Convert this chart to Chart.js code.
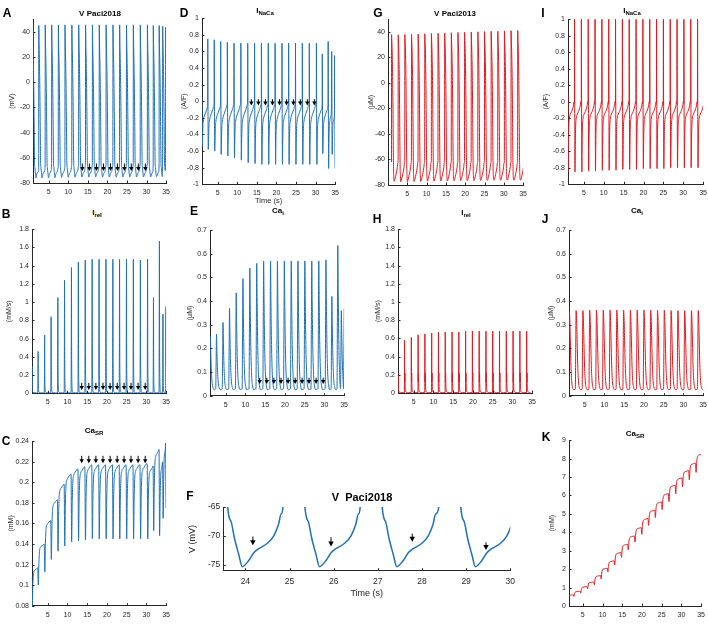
<!DOCTYPE html>
<html>
<head>
<meta charset="utf-8">
<script src="https://cdn.jsdelivr.net/npm/chart.js@4.4.1/dist/chart.umd.min.js"></script>
<style>
body{margin:0;width:708px;height:631px;background:#fff;position:relative;overflow:hidden;font-family:"Liberation Sans",Arial,sans-serif;}
canvas{position:absolute;}
.ltr{position:absolute;font-weight:bold;font-size:12px;color:#000;transform:translate(-50%,-50%);}
.ttl{position:absolute;font-weight:bold;font-size:8px;color:#000;white-space:nowrap;transform:translate(-50%,-50%);}
.ttl sub{font-size:6px;vertical-align:-2px;}
</style>
</head>
<body>
<script>
// ---------- Paci2018 (blue), upstroke times in s ----------
const beats18 = [0.9, 2.45, 4.1, 5.75, 7.45, 9.15, 10.9, 12.65, 14.4, 16.15, 17.9, 19.65, 21.4, 23.1, 24.85, 26.6, 28.38, 30.2, 31.7, 33.2, 34.1, 34.85];
const vPeak18 = [45, 45, 45.5, 45.5, 45.5, 45.5, 45.5, 45.5, 45.5, 45.5, 45.5, 45.5, 45.5, 45.5, 45.5, 45.5, 45.5, 45.5, 45, 45, 44.5, 43.5];
const vTrough18 = [-76, -76, -76, -75.8, -75.6, -75.5, -75.4, -75.3, -75.3, -75.3, -75.3, -75.3, -75.3, -75.3, -75.3, -75.3, -75.3, -75.2, -75, -75, -74.5, -74.5];
const relPeak18 = [0.3, 0.46, 0.64, 0.84, 1.05, 1.24, 1.38, 1.44, 1.46, 1.47, 1.47, 1.47, 1.47, 1.47, 1.47, 1.47, 1.46, 1.47, 1.05, 1.67, 0.87, 0.95];
const nacaPeak18 = [0.75, 0.75, 0.74, 0.72, 0.71, 0.7, 0.7, 0.7, 0.7, 0.7, 0.7, 0.7, 0.7, 0.7, 0.7, 0.7, 0.7, 0.7, 0.57, 0.72, 0.6, 0.55];
const nacaTrough18 = [-0.55, -0.58, -0.6, -0.64, -0.66, -0.68, -0.71, -0.74, -0.75, -0.76, -0.76, -0.76, -0.76, -0.76, -0.76, -0.76, -0.76, -0.76, -0.63, -0.81, -0.64, -0.81];
const caiPeak18 = [0.25, 0.26, 0.31, 0.37, 0.435, 0.495, 0.54, 0.56, 0.57, 0.57, 0.57, 0.57, 0.57, 0.57, 0.57, 0.57, 0.57, 0.575, 0.42, 0.635, 0.36, 0.37];
const caSRTop18 = [0.09, 0.117, 0.14, 0.163, 0.183, 0.198, 0.208, 0.213, 0.215, 0.217, 0.217, 0.217, 0.217, 0.217, 0.217, 0.217, 0.217, 0.218, 0.216, 0.232, 0.22, 0.238];
const caSRMin18 = [0.078, 0.1, 0.113, 0.125, 0.133, 0.138, 0.142, 0.143, 0.144, 0.145, 0.145, 0.145, 0.145, 0.145, 0.145, 0.145, 0.145, 0.145, 0.153, 0.148, 0.165, 0.175];
const arrowTimes18 = [13.6, 15.4, 17.2, 19.0, 20.8, 22.6, 24.35, 26.1, 27.9, 29.7];
const arrowTimesF = [24.17, 25.94, 27.78, 29.45];
const arrowFromF = [-70.1, -70.2, -69.6, -71.1];
const arrowToF = [-71.6, -71.8, -71.0, -72.4];

// ---------- Paci2013 (red) ----------
const beats13 = [0.9, 2.62, 4.34, 6.06, 7.78, 9.5, 11.22, 12.94, 14.66, 16.38, 18.1, 19.82, 21.54, 23.26, 24.98, 26.7, 28.42, 30.14, 31.86, 33.58];
const vPeak13 = [38, 37.8, 38, 38.2, 38.4, 38.6, 38.8, 39, 39.2, 39.4, 39.6, 39.8, 40, 40.1, 40.3, 40.5, 40.6, 40.8, 41, 41.1];
const vTrough13 = [-77, -77.5, -77.5, -77.3, -77.2, -77, -77, -76.8, -76.8, -76.6, -76.6, -76.5, -76.5, -76.4, -76.3, -76.2, -76.2, -76.1, -76, -76];
const relPeak13 = [0.54, 0.58, 0.61, 0.64, 0.65, 0.66, 0.67, 0.67, 0.67, 0.67, 0.68, 0.68, 0.68, 0.68, 0.68, 0.68, 0.68, 0.68, 0.68, 0.68];
const nacaPeak13 = [1.1, 1.1, 1.1, 1.1, 1.1, 1.1, 1.1, 1.1, 1.1, 1.1, 1.1, 1.1, 1.1, 1.1, 1.1, 1.1, 1.1, 1.1, 1.1, 1.1];
const nacaTrough13 = [-0.85, -0.85, -0.85, -0.84, -0.84, -0.83, -0.83, -0.83, -0.82, -0.82, -0.82, -0.81, -0.81, -0.81, -0.81, -0.8, -0.8, -0.8, -0.8, -0.8];
const caiPeak13 = [0.355, 0.36, 0.36, 0.362, 0.362, 0.362, 0.362, 0.362, 0.362, 0.362, 0.362, 0.362, 0.362, 0.362, 0.362, 0.36, 0.36, 0.36, 0.36, 0.36];
const caSRTop13 = [0.45, 0.6, 0.8, 1.05, 1.3, 1.65, 2.05, 2.45, 2.9, 3.35, 3.8, 4.25, 4.75, 5.2, 5.65, 6.1, 6.55, 6.95, 7.35, 7.75, 8.25];
const caSRMin13 = [0.4, 0.52, 0.7, 0.93, 1.15, 1.47, 1.85, 2.22, 2.64, 3.05, 3.47, 3.89, 4.37, 4.8, 5.23, 5.66, 6.09, 6.47, 6.85, 7.25];

// ---------- tick labels ----------
const timeTicks = [5, 10, 15, 20, 25, 30, 35];
const timeTicksF = [24, 25, 26, 27, 28, 29, 30];
const vTicks = [-80, -60, -40, -20, 0, 20, 40];
const vTicksF = [-75, -70, -65];
const nacaTicks = [-1, -0.8, -0.6, -0.4, -0.2, 0, 0.2, 0.4, 0.6, 0.8, 1];
const relTicks = [0, 0.2, 0.4, 0.6, 0.8, 1, 1.2, 1.4, 1.6, 1.8];
const caiTicks = [0, 0.1, 0.2, 0.3, 0.4, 0.5, 0.6, 0.7];
const caSRTicks18 = [0.08, 0.1, 0.12, 0.14, 0.16, 0.18, 0.2, 0.22, 0.24];
const caSRTicks13 = [0, 1, 2, 3, 4, 5, 6, 7, 8, 9];

// beat shapes: [s after upstroke, value | per-beat key | [keyA, keyB, fraction]]
const shapeV18 = [[0, -65], [0.025, 'peak'], [0.1, 30], [0.2, 15], [0.3, -5], [0.4, -35], [0.46, -55], [0.5, -65], [0.58, -67.6], [0.65, -70.3], [0.75, -73.2], [0.83, 'trough'], [0.98, -74.2], [1.09, -72.9], [1.2, -72.2], [1.39, -71.3], [1.54, -70], [1.65, -68], [1.71, -66.2]];
const shapeNaca18 = [[0, -0.03], [0.025, 'peak'], [0.07, 0.05], [0.15, 'trough'], [0.22, -0.5], [0.3, -0.33], [0.45, -0.24], [0.7, -0.18], [1.0, -0.14], [1.3, -0.1], [1.5, -0.07], [1.65, -0.04]];
const shapeRel18 = [[0, 0.004], [0.05, ['base', 'peak', 0.3]], [0.1, 'peak'], [0.15, ['base', 'peak', 0.3]], [0.22, ['base', 'peak', 0.08]], [0.35, 0.012], [0.7, 0.006], [1.2, 0.004]];
const shapeCai18 = [[0, 0.03], [0.1, ['base', 'peak', 0.5]], [0.2, 'peak'], [0.3, ['base', 'peak', 0.7]], [0.45, ['base', 'peak', 0.35]], [0.65, ['base', 'peak', 0.12]], [0.9, ['base', 'peak', 0.03]], [1.2, 'base'], [1.6, 0.028]];
const shapeSR = [[0, 'top'], [0.15, 'min'], [0.3, ['min', 'next', 0.55]], [0.45, ['min', 'next', 0.82]], [0.7, ['min', 'next', 0.92]], [1.0, ['min', 'next', 0.95]], [1.2, ['min', 'next', 0.97]], [1.45, ['min', 'next', 0.985]], [1.62, 'next']];
const shapeV13 = [[0, -62], [0.025, 'peak'], [0.1, 32], [0.2, 22], [0.3, 5], [0.4, -25], [0.47, -52], [0.53, -67], [0.6, -73.5], [0.7, 'trough'], [0.85, -76], [1.05, -73.5], [1.3, -70], [1.5, -66.5], [1.65, -62.5]];
const shapeRel13 = [[0, 0.003], [0.04, 'peak'], [0.08, 0.12], [0.13, 0.22], [0.18, 0.1], [0.26, 0.03], [0.5, 0.008], [1.0, 0.004]];
const shapeNaca13 = [[0, -0.02], [0.025, 'peak'], [0.07, 0.1], [0.14, 'trough'], [0.22, -0.5], [0.3, -0.3], [0.45, -0.2], [0.7, -0.15], [1.0, -0.12], [1.3, -0.08], [1.5, -0.04], [1.62, 0.0]];
const shapeCai13 = [[0, 0.028], [0.08, ['base', 'peak', 0.5]], [0.18, 'peak'], [0.3, ['base', 'peak', 0.9]], [0.45, ['base', 'peak', 0.6]], [0.6, ['base', 'peak', 0.3]], [0.8, ['base', 'peak', 0.1]], [1.0, ['base', 'peak', 0.03]], [1.3, 'base'], [1.65, 0.027]];

function pick(params, key, k) {
    const v = params[key];
    return typeof v === 'number' ? v : v[k];
}

function resolve(spec, k, params) {
    if (typeof spec === 'number') return spec;
    if (typeof spec === 'string') return pick(params, spec, k);
    const a = pick(params, spec[0], k), b = pick(params, spec[1], k);
    return a + spec[2] * (b - a);
}

function buildTrace(times, shape, params) {
    const pts = [];
    times.forEach((t0, k) => {
        const tNext = k + 1 < times.length ? times[k + 1] : Infinity;
        for (const [dt, spec] of shape) {
            if (t0 + dt >= tNext - 1e-6) break;
            pts.push({ x: +(t0 + dt).toFixed(3), y: resolve(spec, k, params) });
        }
    });
    return pts;
}

const nextOf = arr => arr.slice(1).concat([arr[arr.length - 1]]);

const traceV18 = buildTrace(beats18, shapeV18, { peak: vPeak18, trough: vTrough18 });
const traceNaca18 = buildTrace(beats18, shapeNaca18, { peak: nacaPeak18, trough: nacaTrough18 });
const traceRel18 = buildTrace(beats18, shapeRel18, { peak: relPeak18, base: 0 });
const traceCai18 = buildTrace(beats18, shapeCai18, { peak: caiPeak18, base: 0.025 });
const traceSR18 = buildTrace(beats18, shapeSR, { top: caSRTop18, min: caSRMin18, next: nextOf(caSRTop18) });
const traceV13 = buildTrace(beats13, shapeV13, { peak: vPeak13, trough: vTrough13 });
const traceRel13 = buildTrace(beats13, shapeRel13, { peak: relPeak13 });
const traceNaca13 = buildTrace(beats13, shapeNaca13, { peak: nacaPeak13, trough: nacaTrough13 });
const traceCai13 = buildTrace(beats13, shapeCai13, { peak: caiPeak13, base: 0.025 });
const traceSR13 = buildTrace(beats13, shapeSR, { top: caSRTop13, min: caSRMin13, next: caSRTop13.slice(1) });

const AX = '#262626';
const FONT = '"Liberation Sans", Arial, sans-serif';
const BLUE = '#1f70b8';
const RED = '#e3171d';

// panel layout: plot area edges in page pixels
const panels = [
    { L: 33, T: 18, R: 167, B: 183, xr: [1, 35], yr: [-80, 50], xt: timeTicks, yt: vTicks, data: traceV18, col: BLUE, yTitle: '(mV)', yTitleX: 13,
      arrows: { at: arrowTimes18, from: -64.5, to: -70.5, head: 4 } },
    { L: 202, T: 17.3, R: 336, B: 184.3, xr: [1, 35], yr: [-1, 1], xt: timeTicks, yt: nacaTicks, data: traceNaca18, col: BLUE, yTitle: '(A/F)', yTitleX: 185,
      xTitle: 'Time (s)', hx: 21.5, arrows: { at: arrowTimes18, from: 0.025, to: -0.05, head: 4 } },
    { L: 388, T: 18, R: 524, B: 185, xr: [0, 35], yr: [-80, 50], xt: timeTicks, yt: vTicks, data: traceV13, col: RED, yTitle: '(\u03bcM)', yTitleX: 372 },
    { L: 568, T: 18.3, R: 704, B: 184.3, xr: [1, 35], yr: [-1, 1], xt: timeTicks, yt: nacaTicks, data: traceNaca13, col: RED, yTitle: '(A/F)', yTitleX: 547 },
    { L: 32, T: 228, R: 167, B: 393.3, xr: [1, 35], yr: [0, 1.8], xt: timeTicks, yt: relTicks, data: traceRel18, col: BLUE, yTitle: '(mM/s)', yTitleX: 10,
      arrows: { at: arrowTimes18, from: 0.115, to: 0.036, head: 4 } },
    { L: 210, T: 229.3, R: 345, B: 395.7, xr: [1, 35], yr: [0, 0.7], xt: timeTicks, yt: caiTicks, data: traceCai18, col: BLUE, yTitle: '(\u03bcM)', yTitleX: 191,
      arrows: { at: arrowTimes18, from: 0.076, to: 0.049, head: 4 } },
    { L: 398, T: 228, R: 533, B: 393, xr: [1, 35], yr: [0, 1.8], xt: timeTicks, yt: relTicks, data: traceRel13, col: RED, yTitle: '(mM/s)', yTitleX: 379 },
    { L: 569, T: 229.3, R: 704, B: 395.7, xr: [1, 35], yr: [0, 0.7], xt: timeTicks, yt: caiTicks, data: traceCai13, col: RED, yTitle: '(\u03bcM)', yTitleX: 552 },
    { L: 32, T: 440, R: 166.7, B: 605.7, xr: [1, 35], yr: [0.08, 0.24], xt: timeTicks, yt: caSRTicks18, data: traceSR18, col: BLUE, yTitle: '(mM)', yTitleX: 12,
      arrows: { at: arrowTimes18, from: 0.2258, to: 0.2185, head: 4 } },
    { L: 223.3, T: 505.7, R: 512.7, B: 570.7, xr: [23.5, 30], yr: [-76, -65], xt: timeTicksF, yt: vTicksF, data: traceV18, col: BLUE, yTitle: 'V (mV)', yTitleX: 193,
      xTitle: 'Time (s)', hx: 28.5, big: true, lw: 1.5, arrows: { at: arrowTimesF, from: arrowFromF, to: arrowToF, head: 5 } },
    { L: 569, T: 439.3, R: 701.7, B: 606, xr: [1.5, 35], yr: [0, 9], xt: timeTicks, yt: caSRTicks13, data: traceSR13, col: RED, yTitle: '(mM)', yTitleX: 553 }
];

const inwardTicks = {
    id: 'inwardTicks',
    afterDraw(chart) {
        const { ctx, chartArea: ca, scales: { x, y } } = chart;
        ctx.save();
        ctx.strokeStyle = AX;
        ctx.lineWidth = 1;
        ctx.beginPath();
        x.ticks.forEach(t => {
            const px = Math.round(x.getPixelForValue(t.value)) + 0.5;
            ctx.moveTo(px, ca.bottom);
            ctx.lineTo(px, ca.bottom - 2.5);
        });
        y.ticks.forEach(t => {
            const py = Math.round(y.getPixelForValue(t.value)) + 0.5;
            ctx.moveTo(ca.left, py);
            ctx.lineTo(ca.left + 2.5, py);
        });
        ctx.stroke();
        ctx.restore();
    }
};

const arrowMarks = {
    id: 'arrowMarks',
    afterDatasetsDraw(chart, args, opts) {
        if (!opts || !opts.at) return;
        const { ctx, scales: { x, y } } = chart;
        const val = (v, i) => Array.isArray(v) ? v[i] : v;
        ctx.save();
        ctx.fillStyle = '#000';
        ctx.strokeStyle = '#000';
        ctx.lineWidth = 1;
        opts.at.forEach((t, i) => {
            const px = x.getPixelForValue(t);
            const y0 = y.getPixelForValue(val(opts.from, i));
            const y1 = y.getPixelForValue(val(opts.to, i));
            const h = opts.head;
            ctx.beginPath();
            ctx.moveTo(px, y0);
            ctx.lineTo(px, y1 - h + 1);
            ctx.stroke();
            ctx.beginPath();
            ctx.moveTo(px - h * 0.55, y1 - h);
            ctx.lineTo(px + h * 0.55, y1 - h);
            ctx.lineTo(px, y1);
            ctx.closePath();
            ctx.fill();
        });
        ctx.restore();
    }
};

panels.forEach(p => {
    const tickSize = p.big ? 8.5 : 7;
    const titleSize = p.big ? 9 : 7;
    const hx = p.hx || 16;
    const left = Math.floor(p.yTitleX - titleSize / 2 - 1);
    const top = Math.floor(p.T - 6);
    const width = Math.ceil(p.R - left + 8);
    const height = Math.ceil(p.B - top + hx + 1);
    const cv = document.createElement('canvas');
    cv.width = width;
    cv.height = height;
    cv.style.left = left + 'px';
    cv.style.top = top + 'px';
    document.body.appendChild(cv);

    new Chart(cv, {
        type: 'line',
        data: {
            datasets: [{
                data: p.data,
                borderColor: p.col,
                borderWidth: p.lw || 1,
                pointRadius: 0,
                fill: false,
                cubicInterpolationMode: 'monotone'
            }]
        },
        options: {
            responsive: false,
            animation: false,
            events: [],
            layout: {
                padding: {
                    left: 0,
                    top: p.T - top,
                    right: width - (p.R - left),
                    bottom: height - (p.B - top) - hx
                }
            },
            plugins: {
                legend: { display: false },
                tooltip: { enabled: false },
                arrowMarks: p.arrows || {}
            },
            scales: {
                x: {
                    type: 'linear',
                    min: p.xr[0],
                    max: p.xr[1],
                    grid: { display: false, drawTicks: false, tickLength: 0 },
                    border: { display: true, color: AX, width: 1 },
                    ticks: {
                        color: AX,
                        font: { family: FONT, size: tickSize },
                        padding: p.big ? 6 : 5,
                        maxRotation: 0,
                        autoSkip: false,
                        callback: v => String(v)
                    },
                    title: {
                        display: !!p.xTitle,
                        text: p.xTitle || '',
                        color: AX,
                        font: { family: FONT, size: p.big ? 9 : 7.5, lineHeight: 1 },
                        padding: { top: 0, bottom: 1 }
                    },
                    afterBuildTicks: s => { s.ticks = p.xt.map(v => ({ value: v })); },
                    afterFit: s => { s.height = hx; }
                },
                y: {
                    type: 'linear',
                    min: p.yr[0],
                    max: p.yr[1],
                    grid: { display: false, drawTicks: false, tickLength: 0 },
                    border: { display: true, color: AX, width: 1 },
                    ticks: {
                        color: AX,
                        font: { family: FONT, size: tickSize },
                        padding: 3,
                        autoSkip: false,
                        callback: v => String(v)
                    },
                    title: {
                        display: true,
                        text: p.yTitle,
                        color: AX,
                        font: { family: FONT, size: titleSize, lineHeight: 1 },
                        padding: { top: 1, bottom: 0 }
                    },
                    afterBuildTicks: s => { s.ticks = p.yt.map(v => ({ value: v })); },
                    afterFit: s => { s.width = p.L - left; }
                }
            }
        },
        plugins: [inwardTicks, arrowMarks]
    });
});

// panel letters and titles
const letters = [['A', 7, 13], ['B', 6, 214], ['C', 6, 441], ['D', 184, 13], ['E', 194, 211], ['F', 190, 496],
                 ['G', 378, 13], ['H', 377, 219], ['I', 543, 13], ['J', 545, 219], ['K', 546, 437]];
letters.forEach(([t, x, y]) => {
    const d = document.createElement('div');
    d.className = 'ltr';
    d.style.left = x + 'px';
    d.style.top = y + 'px';
    d.textContent = t;
    document.body.appendChild(d);
});

const titles = [['V Paci2018', 100, 12.5], ['I<sub>NaCa</sub>', 265, 11], ['V Paci2013', 455, 12.5], ['I<sub>NaCa</sub>', 632, 11],
                ['I<sub>rel</sub>', 97, 213], ['Ca<sub>i</sub>', 278, 211], ['I<sub>rel</sub>', 466, 213], ['Ca<sub>i</sub>', 637, 211],
                ['Ca<sub>SR</sub>', 94, 431], ['Ca<sub>SR</sub>', 635, 434]];
titles.forEach(([t, x, y]) => {
    const d = document.createElement('div');
    d.className = 'ttl';
    d.style.left = x + 'px';
    d.style.top = y + 'px';
    d.innerHTML = t;
    document.body.appendChild(d);
});
const fTitle = document.createElement('div');
fTitle.className = 'ttl';
fTitle.style.cssText = 'left:362px;top:497px;font-size:11px;';
fTitle.innerHTML = 'V&nbsp;&nbsp;Paci2018';
document.body.appendChild(fTitle);
</script>
</body>
</html>
